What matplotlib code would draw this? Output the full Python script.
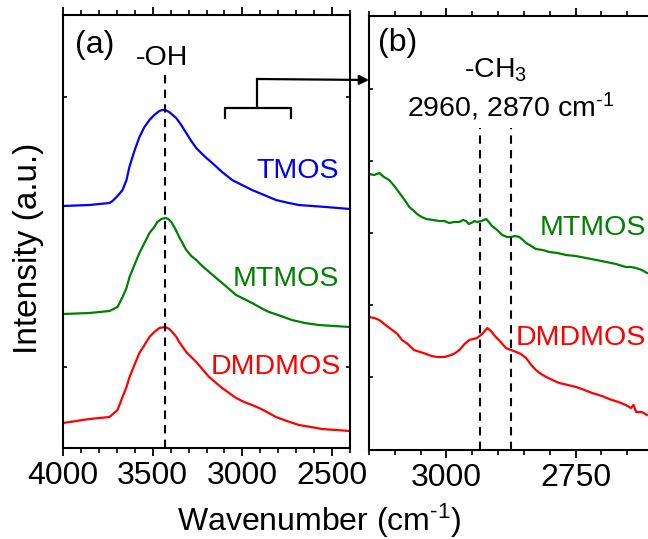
import numpy as np
import matplotlib
matplotlib.use("Agg")
import matplotlib.pyplot as plt

plt.rcParams['font.family'] = ['Liberation Sans', 'DejaVu Sans']
plt.rcParams['mathtext.fontset'] = 'custom'
plt.rcParams['mathtext.rm'] = 'Liberation Sans'
plt.rcParams['mathtext.it'] = 'Liberation Sans:italic'

# panel (a): full range spectra (a.u.)
wn_tmos = [4000, 3852, 3741, 3724, 3696, 3668, 3646, 3630, 3602, 3574, 3546, 3518, 3491,
           3463, 3446, 3430, 3408, 3369, 3341, 3313, 3285, 3257, 3213, 3168, 3113, 3057,
           3002, 2946, 2879, 2813, 2741, 2685, 2535, 2400]
int_tmos = [161, 162, 164, 166, 171, 177, 187, 200, 216, 230, 240, 247, 252,
            256, 257, 257, 255, 249, 242, 234, 226, 219, 211, 204, 195, 187,
            182, 177, 172, 167, 164, 162, 160, 158]

wn_mtmos = [4000, 3852, 3741, 3696, 3668, 3646, 3629, 3602, 3574, 3546, 3518, 3491, 3474,
            3452, 3429, 3413, 3396, 3374, 3352, 3313, 3285, 3257, 3224, 3185, 3146, 3113,
            3074, 3035, 2990, 2946, 2896, 2852, 2785, 2724, 2652, 2574, 2490, 2400]
int_mtmos = [53, 54, 56, 60, 70, 79, 90, 102, 114, 124, 134, 140, 145,
             148, 149, 148, 145, 138, 130, 117, 111, 107, 101, 95, 89, 84,
             78, 72, 68, 64, 59, 55, 51, 47, 44, 42, 41, 40]

wn_dmdmos = [4000, 3852, 3741, 3696, 3668, 3646, 3629, 3602, 3574, 3546, 3518, 3491, 3463,
             3429, 3407, 3391, 3368, 3352, 3313, 3285, 3257, 3224, 3185, 3146, 3113, 3074,
             3035, 2990, 2946, 2907, 2863, 2813, 2752, 2685, 2618, 2557, 2479, 2400]
int_dmdmos = [-56, -52, -50, -43, -30, -20, -10, 2, 14, 22, 30, 35, 39,
              40, 38, 35, 30, 25, 15, 10, 5, -2, -10, -16, -21, -26,
              -31, -35, -38, -41, -45, -50, -54, -58, -60, -62, -63, -64]

# panel (b): zoom on C-H region
wn_b_mtmos = [3150, 3140, 3130, 3121, 3111, 3101, 3091, 3081, 3072, 3063, 3057, 3048, 3039,
              3026, 3014, 3004, 2995, 2985, 2975, 2968, 2962, 2957, 2952, 2946, 2941, 2932,
              2923, 2918, 2912, 2902, 2892, 2883, 2875, 2867, 2859, 2852, 2846, 2836, 2827,
              2814, 2801, 2785, 2769, 2750, 2730, 2710, 2691, 2672, 2653, 2643, 2633, 2622,
              2612]
int_b_mtmos = [203, 202, 204, 200, 197, 191, 184, 177, 170, 166, 163, 160, 158,
               157, 156, 156, 154, 155, 155, 157, 156, 153, 154, 156, 155, 156,
               158, 155, 151, 147, 142, 140, 140, 141, 140, 137, 134, 131, 128,
               127, 125, 124, 122, 121, 119, 117, 115, 113, 110, 110, 109, 107,
               104]

wn_b_dmdmos = [3150, 3140, 3130, 3118, 3105, 3095, 3086, 3075, 3063, 3051, 3039, 3029, 3018,
               3004, 2991, 2983, 2975, 2965, 2956, 2948, 2941, 2931, 2921, 2914, 2908, 2897,
               2885, 2875, 2865, 2856, 2846, 2836, 2827, 2817, 2807, 2795, 2782, 2765, 2749,
               2733, 2718, 2699, 2680, 2667, 2653, 2643, 2638, 2633, 2622, 2612]
int_b_dmdmos = [60, 59, 57, 52, 47, 43, 37, 33, 27, 25, 23, 21, 20,
                20, 22, 24, 27, 33, 37, 38, 39, 43, 49, 46, 42, 36,
                29, 27, 25, 23, 19, 12, 7, 3, 0, -3, -6, -8, -10,
                -13, -16, -19, -23, -25, -28, -31, -28, -35, -35, -38]

oh_peak = 3430
ch_peaks = [2935, 2875]

fig = plt.figure(figsize=(6.48, 5.39), dpi=100)
ax_a = fig.add_axes([63/648, 91/539, 287/648, 433/539])
ax_b = fig.add_axes([369/648, 89/539, 310/648, 434/539])

lw = 1.6
ax_a.plot(wn_tmos, int_tmos, color='#0000ff', lw=lw)
ax_a.plot(wn_mtmos, int_mtmos, color='#008000', lw=lw)
ax_a.plot(wn_dmdmos, int_dmdmos, color='#ff0000', lw=lw)
ax_a.plot([oh_peak, oh_peak], [-81, 294], ls=(0, (4, 3)), color='k', lw=1.5)
ax_a.set_xlim(4000, 2400)
ax_a.set_ylim(-81, 352)
ax_a.set_xticks([4000, 3500, 3000, 2500])
ax_a.set_xticks(np.arange(2400, 4001, 100), minor=True)
ax_a.set_yticks([0, 270])

ax_b.plot(wn_b_mtmos, int_b_mtmos, color='#008000', lw=lw)
ax_b.plot(wn_b_dmdmos, int_b_dmdmos, color='#ff0000', lw=lw)
for p in ch_peaks:
    ax_b.plot([p, p], [-73, 249], ls=(0, (4, 3)), color='k', lw=1.5)
ax_b.set_xlim(3150, 2550)
ax_b.set_ylim(-73, 361)
ax_b.set_xticks([3000, 2750])
ax_b.set_xticks(np.arange(2550, 3151, 50), minor=True)
ax_b.set_yticks([0, 72, 144, 216, 288])

for ax in (ax_a, ax_b):
    for s in ax.spines.values():
        s.set_linewidth(1.5)
    ax.tick_params(axis='x', which='major', direction='out', top=True, length=6, width=1.3,
                   labelsize=23, pad=3)
    ax.tick_params(axis='x', which='minor', direction='out', top=True, length=3.5, width=1.2)
    ax.tick_params(axis='y', which='both', direction='in', left=True, right=True, length=3,
                   width=1.2, labelleft=False)

# labels panel (a)
fs = 20.5
ax_a.text(3824, 322, '(a)', fontsize=23, ha='center', va='center')
ax_a.text(3446, 309, '-OH', fontsize=fs, ha='center', va='center')
ax_a.text(2463, 196, 'TMOS', fontsize=fs, color='#0000ff', ha='right', va='center')
ax_a.text(2463, 88, 'MTMOS', fontsize=fs, color='#008000', ha='right', va='center')
ax_a.text(2452, 0, 'DMDMOS', fontsize=fs, color='#ff0000', ha='right', va='center')

# bracket + arrow to panel (b)
ax_a.plot([3096, 3096, 2729, 2729], [249, 259, 259, 249], color='k', lw=1.6)
ax_a.plot([2918, 2918], [259, 288], color='k', lw=1.6)
ax_a.annotate('', xy=(3150, 297), xycoords=ax_b.transData, xytext=(2918, 288),
              textcoords='data', annotation_clip=False,
              arrowprops=dict(arrowstyle='-|>', color='k', lw=1.6, shrinkA=0, shrinkB=0,
                              mutation_scale=14))

# labels panel (b)
hy = '\u2010'  # plain hyphen in superscripts, like the original
ax_b.text(3095, 334, '(b)', fontsize=23, ha='center', va='center')
ax_b.text(2966, 299, '-CH$_3$', fontsize=fs, ha='left', va='baseline')
ax_b.text(3076, 260, '2960, 2870 cm$^{\\mathregular{' + hy + '1}}$', fontsize=fs,
          ha='left', va='baseline')
ax_b.text(2614, 149, 'MTMOS', fontsize=fs, color='#008000', ha='right', va='center')
ax_b.text(2614, 39, 'DMDMOS', fontsize=fs, color='#ff0000', ha='right', va='center')

fig.text(29/648, 1 - 248/539, 'Intensity (a.u.)', fontsize=24, rotation=90,
         ha='center', va='center')
fig.text(319/648, 8/539, 'Wavenumber (cm$^{\\mathregular{' + hy + '1}}$)', fontsize=23,
         ha='center', va='baseline')

fig.savefig('out.png', dpi=100)
